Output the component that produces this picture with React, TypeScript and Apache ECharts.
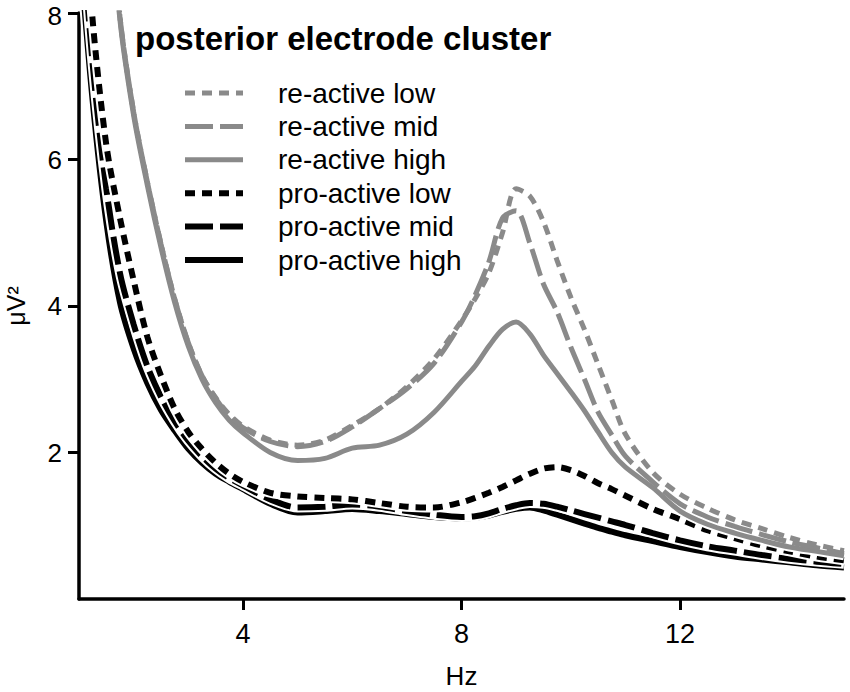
import React, { useEffect, useRef } from 'react';
import * as echarts from 'echarts';

// frequency grid (Hz)
const freq = [1, 1.25, 1.5, 1.75, 2, 2.25, 2.5, 2.75, 3, 3.25, 3.5, 3.75, 4, 4.5, 5, 5.5, 6, 6.5, 7, 7.5, 8, 8.25, 8.5, 8.75, 9, 9.25, 9.5, 9.75, 10, 10.25, 10.5, 10.75, 11, 11.5, 12, 12.5, 13, 13.5, 14, 14.5, 15];

// power values (µV²); null = far above the plotted range
const reActiveLow = [null, null, 10.3, 7.95, 6.65, 5.7, 4.85, 4.1, 3.5, 3.05, 2.75, 2.52, 2.36, 2.17, 2.1, 2.17, 2.37, 2.6, 2.9, 3.28, 3.8, 4.1, 4.45, 5.0, 5.6, 5.5, 5.15, 4.62, 4.12, 3.68, 3.2, 2.72, 2.25, 1.73, 1.43, 1.24, 1.08, 0.96, 0.84, 0.74, 0.66];
const reActiveMid = [null, null, 10.3, 7.95, 6.65, 5.7, 4.85, 4.1, 3.5, 3.05, 2.74, 2.5, 2.34, 2.15, 2.08, 2.15, 2.35, 2.6, 2.87, 3.22, 3.78, 4.15, 4.6, 5.2, 5.3, 4.86, 4.3, 3.92, 3.44, 3.0, 2.55, 2.24, 1.95, 1.6, 1.3, 1.12, 0.99, 0.88, 0.78, 0.7, 0.62];
const reActiveHigh = [null, null, 10.2, 7.9, 6.6, 5.65, 4.8, 4.05, 3.45, 3.0, 2.68, 2.44, 2.27, 2.0, 1.89, 1.92, 2.06, 2.1, 2.25, 2.55, 2.97, 3.18, 3.45, 3.68, 3.78, 3.62, 3.33, 3.08, 2.83, 2.57, 2.28, 2.0, 1.8, 1.52, 1.2, 1.02, 0.9, 0.8, 0.71, 0.65, 0.59];
const proActiveLow = [10.5, 7.9, 6.2, 5.2, 4.35, 3.58, 3.05, 2.6, 2.28, 2.05, 1.86, 1.71, 1.6, 1.45, 1.4, 1.38, 1.36, 1.31, 1.26, 1.25, 1.32, 1.38, 1.45, 1.53, 1.62, 1.71, 1.78, 1.8, 1.76, 1.68, 1.58, 1.5, 1.41, 1.23, 1.09, 0.94, 0.83, 0.73, 0.65, 0.58, 0.53];
const proActiveMid = [9.7, 7.3, 5.6, 4.45, 3.75, 3.18, 2.76, 2.43, 2.16, 1.95, 1.78, 1.65, 1.55, 1.36, 1.25, 1.26, 1.29, 1.26, 1.2, 1.15, 1.12, 1.13, 1.17, 1.23, 1.28, 1.31, 1.3, 1.26, 1.21, 1.16, 1.11, 1.06, 1.01, 0.9, 0.8, 0.72, 0.66, 0.6, 0.55, 0.51, 0.48];
const proActiveHigh = [9.0, 6.8, 5.15, 4.05, 3.42, 2.95, 2.58, 2.3, 2.05, 1.86, 1.71, 1.6, 1.5, 1.3, 1.18, 1.2, 1.23, 1.2, 1.16, 1.12, 1.1, 1.11, 1.14, 1.19, 1.23, 1.25, 1.21, 1.15, 1.09, 1.03, 0.97, 0.92, 0.87, 0.79, 0.71, 0.64, 0.58, 0.54, 0.5, 0.46, 0.43];

const seriesNames = ['re-active low', 're-active mid', 're-active high', 'pro-active low', 'pro-active mid', 'pro-active high'];
const seriesValues = [reActiveLow, reActiveMid, reActiveHigh, proActiveLow, proActiveMid, proActiveHigh];

const xTicks = [4, 8, 12];
const yTicks = [2, 4, 6, 8];
const titleText = 'posterior electrode cluster';

const GRAY = '#8a8a8a';
const BLACK = '#000000';
const FONT = '"Liberation Sans", Arial, Helvetica, sans-serif';
// zHalo / zLine set the stacking of the white outline and of the line itself
const lineLooks = [
  { color: GRAY, width: 5, dash: [10, 7] as number[] | null, zHalo: 9, zLine: 14 },
  { color: GRAY, width: 5, dash: [28, 7] as number[] | null, zHalo: 9, zLine: 13 },
  { color: GRAY, width: 5, dash: null, zHalo: 9, zLine: 12 },
  { color: BLACK, width: 6, dash: [10, 7] as number[] | null, zHalo: 7, zLine: 8 },
  { color: BLACK, width: 6, dash: [28, 7] as number[] | null, zHalo: 5, zLine: 6 },
  { color: BLACK, width: 6, dash: null, zHalo: 3, zLine: 4 },
];
const drawOrder = [5, 4, 3, 2, 1, 0];

export default function App() {
  const ref = useRef<HTMLDivElement>(null);
  useEffect(() => {
    if (!ref.current) return;
    const chart = echarts.init(ref.current, undefined, { renderer: 'svg' });

    const series: any[] = [];
    drawOrder.forEach((i) => {
      const data = freq.map((f, j) => [f, seriesValues[i][j]]);
      const look = lineLooks[i];
      series.push({
        type: 'line',
        name: seriesNames[i] + ' outline',
        data,
        symbol: 'none',
        smooth: 0.3,
        silent: true,
        z: look.zHalo,
        lineStyle: { color: '#ffffff', width: look.width + 4, type: 'solid' },
      });
    });
    drawOrder.forEach((i) => {
      const data = freq.map((f, j) => [f, seriesValues[i][j]]);
      const look = lineLooks[i];
      series.push({
        type: 'line',
        name: seriesNames[i],
        data,
        symbol: 'none',
        smooth: 0.3,
        z: look.zLine,
        lineStyle: { color: look.color, width: look.width, type: look.dash ? look.dash : 'solid', cap: 'butt' },
      });
    });

    const legendTop = 93;
    const legendStep = 33.4;
    const graphic: any[] = [
      {
        type: 'text',
        left: 135,
        top: 22,
        z: 100,
        style: { text: titleText, fontSize: 33, fontWeight: 'bold', fontFamily: FONT, fill: '#000' },
      },
    ];
    seriesNames.forEach((n, i) => {
      const y = legendTop + i * legendStep;
      const look = lineLooks[i];
      graphic.push({
        type: 'line',
        z: 100,
        shape: { x1: 185, y1: y, x2: 243, y2: y },
        style: { stroke: look.color, lineWidth: look.width, lineDash: look.dash ? look.dash : null, lineCap: 'butt' },
      });
      graphic.push({
        type: 'text',
        z: 100,
        x: 278,
        y,
        style: { text: n, fontSize: 28, fontFamily: FONT, fill: '#000', verticalAlign: 'middle', align: 'left' },
      });
    });

    chart.setOption({
      animation: false,
      backgroundColor: '#ffffff',
      grid: { left: 79, right: 6, top: 13, bottom: 93, containLabel: false, outerBoundsMode: 'none' },
      xAxis: {
        type: 'value',
        min: 1,
        max: 15,
        name: 'Hz',
        nameLocation: 'middle',
        nameGap: 64,
        nameTextStyle: { fontSize: 26, color: '#000', fontFamily: FONT, lineHeight: 26 },
        axisLine: { show: true, onZero: false, lineStyle: { color: '#000', width: 3.5 } },
        axisTick: { show: true, length: 11, lineStyle: { color: '#000', width: 3 }, customValues: xTicks },
        axisLabel: { fontSize: 27, color: '#000', fontFamily: FONT, margin: 21, customValues: xTicks },
        splitLine: { show: false },
      },
      yAxis: {
        type: 'value',
        min: 0,
        max: 8,
        name: 'μV²',
        nameLocation: 'middle',
        nameGap: 51,
        nameRotate: 90,
        nameTextStyle: { fontSize: 25, color: '#000', fontFamily: FONT },
        axisLine: { show: true, onZero: false, lineStyle: { color: '#000', width: 3.5 } },
        axisTick: { show: true, length: 11, lineStyle: { color: '#000', width: 3 }, customValues: yTicks },
        axisLabel: {
          fontSize: 26,
          lineHeight: 22,
          color: '#000',
          fontFamily: FONT,
          margin: 17,
          customValues: yTicks,
          formatter: (v: number) => (v === 8 ? '{top|8}' : String(v)),
          rich: { top: { fontSize: 26, lineHeight: 22, fontFamily: FONT, color: '#000', padding: [6, 0, 0, 0] } },
        },
        splitLine: { show: false },
      },
      series,
      graphic,
    });
    return () => chart.dispose();
  }, []);
  return <div ref={ref} style={{ position: 'fixed', left: 0, top: 0, width: 850, height: 692, background: '#fff' }} />;
}
